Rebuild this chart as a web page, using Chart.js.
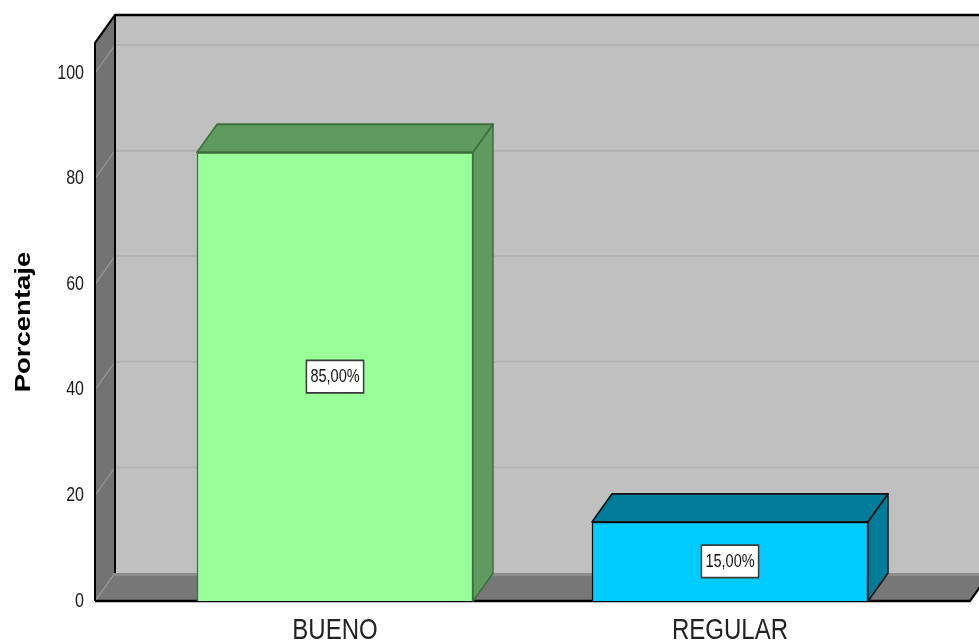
<!DOCTYPE html>
<html>
<head>
<meta charset="utf-8">
<script src="https://cdn.jsdelivr.net/npm/chart.js@4/dist/chart.umd.min.js"></script>
<style>
  html, body { margin: 0; padding: 0; background: #ffffff; }
  #wrap { width: 979px; height: 641px; position: relative; overflow: hidden; }
  canvas { display: block; }
</style>
</head>
<body>
<div id="wrap"><canvas id="chart" width="979" height="513"></canvas></div>
<script>
// Categories and their percentages
const categories = ['BUENO', 'REGULAR'];
const percentages = [85, 15];
// Tick values shown on the vertical axis
const yTicks = [0, 20, 40, 60, 80, 100];
const yMax = 105.7;

// The chart is laid out at 979x513 and drawn stretched vertically to 641px
const OUT_W = 979, OUT_H = 641, LOG_H = 513;
const STRETCH = OUT_H / LOG_H;

// Styling
const SANS = "'Liberation Sans', Arial, Helvetica, sans-serif";
const frontColors = ['#99ff99', '#00ccff'];
const depthColors = ['#5f9b5f', '#007b99'];
const edgeColors = ['#3f6f3f', '#111111'];
const DEPTH_X = 20, DEPTH_Y = -22.4;

function fmtPct(v) {
  return v.toFixed(2).replace('.', ',') + '%';
}

// Applies the vertical stretch for every frame
const stretchPlugin = {
  id: 'stretch',
  beforeDraw(chart) {
    chart.ctx.setTransform(1, 0, 0, STRETCH, 0, 0);
  }
};

// Back wall, side wall and floor of the 3D box, plus bar depth faces and value boxes
const boxPlugin = {
  id: 'box3d',
  beforeDatasetsDraw(chart) {
    const { ctx, chartArea: a, scales: { y } } = chart;
    const y0 = y.getPixelForValue(0);
    const yTop = y.getPixelForValue(yMax);
    const L = a.left, R = a.right;
    ctx.save();
    // back wall
    ctx.fillStyle = '#c0c0c0';
    ctx.fillRect(L + DEPTH_X, yTop + DEPTH_Y, R - L + 40, y0 - yTop);
    // left wall
    ctx.fillStyle = '#737373';
    ctx.beginPath();
    ctx.moveTo(L, yTop); ctx.lineTo(L + DEPTH_X, yTop + DEPTH_Y);
    ctx.lineTo(L + DEPTH_X, y0 + DEPTH_Y); ctx.lineTo(L, y0);
    ctx.closePath(); ctx.fill();
    // floor
    ctx.fillStyle = '#777777';
    ctx.beginPath();
    ctx.moveTo(L, y0); ctx.lineTo(L + DEPTH_X, y0 + DEPTH_Y);
    ctx.lineTo(R + DEPTH_X, y0 + DEPTH_Y); ctx.lineTo(R, y0);
    ctx.closePath(); ctx.fill();
    ctx.strokeStyle = '#8c8c8c'; ctx.lineWidth = 2.4;
    ctx.beginPath();
    ctx.moveTo(L + DEPTH_X, y0 + DEPTH_Y + 1.2); ctx.lineTo(R + 40, y0 + DEPTH_Y + 1.2);
    ctx.stroke();
    // grid lines on back wall and left wall
    yTicks.forEach(v => {
      const py = y.getPixelForValue(v);
      if (v > 0) {
        ctx.strokeStyle = '#b2b2b2'; ctx.lineWidth = 1.6;
        ctx.beginPath();
        ctx.moveTo(L + DEPTH_X, py + DEPTH_Y); ctx.lineTo(R + 40, py + DEPTH_Y);
        ctx.stroke();
      }
      ctx.strokeStyle = '#9a9a9a'; ctx.lineWidth = 1;
      ctx.beginPath();
      ctx.moveTo(L, py); ctx.lineTo(L + DEPTH_X, py + DEPTH_Y);
      ctx.stroke();
    });
    // box edges
    ctx.strokeStyle = '#000000'; ctx.lineWidth = 2;
    ctx.beginPath();
    ctx.moveTo(L, y0); ctx.lineTo(L, yTop);
    ctx.lineTo(L + DEPTH_X, yTop + DEPTH_Y);
    ctx.lineTo(R + 40, yTop + DEPTH_Y);
    ctx.moveTo(L + DEPTH_X, yTop + DEPTH_Y); ctx.lineTo(L + DEPTH_X, y0 + DEPTH_Y);
    ctx.moveTo(L, y0); ctx.lineTo(R, y0); ctx.lineTo(R + DEPTH_X, y0 + DEPTH_Y);
    ctx.stroke();
    ctx.restore();
  },
  afterDatasetsDraw(chart) {
    const { ctx } = chart;
    const meta = chart.getDatasetMeta(0);
    ctx.save();
    meta.data.forEach((bar, i) => {
      const { x, y, base, width } = bar.getProps(['x', 'y', 'base', 'width'], true);
      const l = x - width / 2, r = x + width / 2;
      ctx.fillStyle = depthColors[i];
      ctx.strokeStyle = edgeColors[i];
      ctx.lineWidth = 1.5;
      ctx.lineJoin = 'round';
      // top face
      ctx.beginPath();
      ctx.moveTo(l, y); ctx.lineTo(l + DEPTH_X, y + DEPTH_Y);
      ctx.lineTo(r + DEPTH_X, y + DEPTH_Y); ctx.lineTo(r, y);
      ctx.closePath(); ctx.fill(); ctx.stroke();
      // side face
      ctx.beginPath();
      ctx.moveTo(r, y); ctx.lineTo(r + DEPTH_X, y + DEPTH_Y);
      ctx.lineTo(r + DEPTH_X, base + DEPTH_Y); ctx.lineTo(r, base);
      ctx.closePath(); ctx.fill(); ctx.stroke();
      // value label box
      const txt = fmtPct(percentages[i]);
      ctx.font = '14.5px ' + SANS;
      const tw = ctx.measureText(txt).width;
      const bw = tw + 8, bh = 26;
      const cy = (y + base) / 2;
      ctx.fillStyle = '#ffffff';
      ctx.fillRect(x - bw / 2, cy - bh / 2, bw, bh);
      ctx.strokeStyle = '#3a3a3a'; ctx.lineWidth = 1.5;
      ctx.strokeRect(x - bw / 2, cy - bh / 2, bw, bh);
      ctx.fillStyle = '#111111';
      ctx.textAlign = 'center'; ctx.textBaseline = 'middle';
      ctx.fillText(txt, x, cy + 0.5);
    });
    ctx.restore();
  }
};

const canvas = document.getElementById('chart');
const chart = new Chart(canvas, {
  type: 'bar',
  data: {
    datasets: [{
      data: percentages.map((v, i) => ({ x: i, y: v })),
      backgroundColor: frontColors,
      borderColor: edgeColors,
      borderWidth: 1.5,
      barThickness: 276
    }]
  },
  options: {
    responsive: false,
    animation: false,
    devicePixelRatio: 1,
    events: [],
    layout: { padding: { left: 0, right: 9, top: 34.4, bottom: 0 } },
    plugins: { legend: { display: false }, tooltip: { enabled: false } },
    scales: {
      x: {
        type: 'linear',
        offset: false,
        min: -0.6076,
        max: 1.6076,
        grid: { display: false },
        border: { display: false },
        afterBuildTicks: s => { s.ticks = categories.map((c, i) => ({ value: i })); },
        afterFit: s => { s.height = 32; },
        ticks: {
          callback: v => categories[v],
          font: { family: SANS, size: 24 },
          color: '#222222',
          padding: 1,
          maxRotation: 0,
          autoSkip: false
        }
      },
      y: {
        min: 0,
        max: yMax,
        grid: { display: false },
        border: { display: false },
        afterBuildTicks: s => { s.ticks = yTicks.map(v => ({ value: v })); },
        afterFit: s => { s.width = 95; },
        ticks: {
          font: { family: SANS, size: 16 },
          color: '#1a1a1a',
          padding: 3
        },
        title: {
          display: true,
          text: 'Porcentaje',
          font: { family: SANS, size: 22, weight: 'bold' },
          color: '#000000',
          padding: { top: 11, bottom: 0 }
        }
      }
    }
  },
  plugins: [stretchPlugin, boxPlugin]
});

// Enlarge the bitmap to the final size and redraw through the stretch transform
canvas.width = OUT_W;
canvas.height = OUT_H;
canvas.style.width = OUT_W + 'px';
canvas.style.height = OUT_H + 'px';
chart.draw();
</script>
</body>
</html>
